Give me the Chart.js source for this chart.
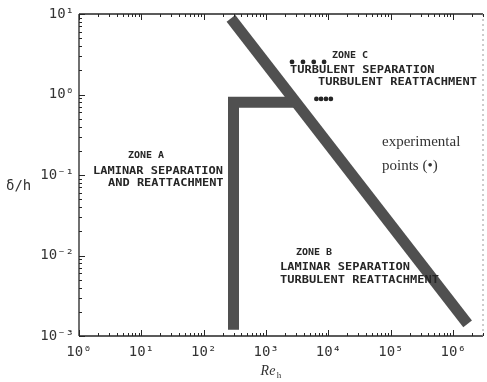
<!DOCTYPE html>
<html>
<head>
<meta charset="utf-8">
<script src="https://cdn.jsdelivr.net/npm/chart.js@4.4.1/dist/chart.umd.min.js"></script>
<style>
  html, body { margin: 0; padding: 0; background: #ffffff; }
  #wrap { width: 487px; height: 382px; }
</style>
</head>
<body>
<div id="wrap"><canvas id="c" width="487" height="382"></canvas></div>
<script>
// Axis ranges and tick labels
const reLimits = [1, 3e6];
const deltaLimits = [1e-3, 10];
const xTickValues = [1, 10, 100, 1000, 1e4, 1e5, 1e6];
const xTickLabels = ['10⁰', '10¹', '10²', '10³', '10⁴', '10⁵', '10⁶'];
const yTickValues = [1e-3, 1e-2, 1e-1, 1, 10];
const yTickLabels = ['10⁻³', '10⁻²', '10⁻¹', '10⁰', '10¹'];

// Boundary between turbulent and laminar separation (δ/h ∝ 1/Re)
const transitionRe = [273, 1.7e6];
const transitionDelta = [8.8, 0.00141];

// Laminar separation limit
const laminarRe = [300, 300, 3000];
const laminarDelta = [0.0012, 0.8, 0.8];

// Experimental points
const pointsRe = [2600, 3900, 5800, 8500, 6400, 7600, 9100, 10900];
const pointsDelta = [2.54, 2.54, 2.54, 2.54, 0.88, 0.88, 0.88, 0.88];

const toXY = (xs, ys) => xs.map((x, i) => ({ x: x, y: ys[i] }));

const BAND = '#505050';
const INK = '#262626';

// Inward ticks, frame and annotation text
const decor = {
  id: 'decor',
  afterDatasetsDraw(chart) {
    const { ctx, chartArea: a, scales: { x, y } } = chart;
    ctx.save();
    // frame
    ctx.strokeStyle = INK;
    ctx.lineWidth = 1.3;
    ctx.beginPath();
    ctx.moveTo(a.left, a.top); ctx.lineTo(a.right, a.top);
    ctx.moveTo(a.left, a.top); ctx.lineTo(a.left, a.bottom);
    ctx.moveTo(a.left, a.bottom); ctx.lineTo(a.right, a.bottom);
    ctx.stroke();
    ctx.strokeStyle = '#9a9a9a';
    ctx.lineWidth = 1;
    ctx.setLineDash([2, 3]);
    ctx.beginPath();
    ctx.moveTo(a.right, a.top); ctx.lineTo(a.right, a.bottom);
    ctx.stroke();
    ctx.setLineDash([]);

    // ticks
    ctx.strokeStyle = INK;
    ctx.lineWidth = 1;
    ctx.beginPath();
    for (let e = 0; e <= 6; e++) {
      for (let m = 1; m <= 9; m++) {
        const v = m * Math.pow(10, e);
        if (v > reLimits[1]) break;
        const px = Math.round(x.getPixelForValue(v)) + 0.5;
        const len = m === 1 ? 6 : 3;
        ctx.moveTo(px, a.bottom); ctx.lineTo(px, a.bottom - len);
        ctx.moveTo(px, a.top); ctx.lineTo(px, a.top + len);
      }
    }
    for (let e = -3; e <= 1; e++) {
      for (let m = 1; m <= 9; m++) {
        const v = m * Math.pow(10, e);
        if (v > deltaLimits[1]) break;
        const py = Math.round(y.getPixelForValue(v)) + 0.5;
        const len = m === 1 ? 6 : 3;
        ctx.moveTo(a.left, py); ctx.lineTo(a.left + len, py);
      }
    }
    ctx.stroke();

    // zone labels
    const zone = (txt, px, py) => {
      ctx.save();
      ctx.translate(px, py);
      ctx.scale(1, 0.8);
      ctx.fillText(txt, 0, 0);
      ctx.restore();
    };
    ctx.fillStyle = INK;
    ctx.textBaseline = 'middle';
    ctx.textAlign = 'left';
    ctx.font = 'bold 10px "DejaVu Sans Mono"';
    zone('ZONE A', 128, 156);
    zone('ZONE C', 332, 56);
    zone('ZONE B', 296, 253);
    ctx.font = 'bold 12px "DejaVu Sans Mono"';
    zone('LAMINAR SEPARATION', 93, 171);
    zone('AND REATTACHMENT', 108, 183);
    zone('TURBULENT SEPARATION', 290, 70);
    zone('TURBULENT REATTACHMENT', 318, 82);
    zone('LAMINAR SEPARATION', 280, 267);
    zone('TURBULENT REATTACHMENT', 280, 280);

    ctx.font = '15px "Liberation Serif"';
    ctx.fillStyle = '#333333';
    ctx.fillText('experimental', 382, 142);
    ctx.fillText('points (•)', 382, 166);

    // axis titles
    ctx.font = '14px "DejaVu Sans Mono"';
    ctx.fillStyle = '#333333';
    ctx.fillText('δ/h', 6, 186);
    ctx.font = 'italic 14px "Liberation Serif"';
    ctx.textAlign = 'center';
    ctx.fillText('Re', 268, 371);
    ctx.font = '9px "Liberation Serif"';
    ctx.fillText('h', 279, 376);
    ctx.restore();
  }
};

new Chart(document.getElementById('c'), {
  type: 'line',
  data: {
    datasets: [
      {
        data: toXY(transitionRe, transitionDelta),
        borderColor: BAND,
        borderWidth: 11,
        borderCapStyle: 'butt',
        pointRadius: 0,
        fill: false
      },
      {
        data: toXY(laminarRe, laminarDelta),
        borderColor: BAND,
        borderWidth: 11,
        borderCapStyle: 'butt',
        borderJoinStyle: 'miter',
        pointRadius: 0,
        fill: false
      },
      {
        data: toXY(laminarRe.slice(0, 2), [0.0016, 0.6]),
        borderColor: 'rgba(235,235,235,0.8)',
        borderWidth: 1.5,
        borderDash: [2, 7],
        pointRadius: 0,
        fill: false
      },
      {
        data: toXY(pointsRe, pointsDelta),
        showLine: false,
        pointRadius: 2.4,
        pointBackgroundColor: INK,
        pointBorderWidth: 0
      }
    ]
  },
  options: {
    responsive: false,
    animation: false,
    layout: { padding: { top: 14, right: 4, left: 0, bottom: 0 } },
    plugins: { legend: { display: false }, tooltip: { enabled: false } },
    scales: {
      x: {
        type: 'logarithmic',
        min: reLimits[0],
        max: reLimits[1],
        afterBuildTicks: s => { s.ticks = xTickValues.map(v => ({ value: v })); },
        afterFit: s => { s.height = 46; },
        border: { display: false },
        grid: { display: false, drawTicks: false },
        ticks: {
          autoSkip: false,
          maxRotation: 0,
          padding: 8,
          color: '#333333',
          font: { family: 'DejaVu Sans Mono', size: 14 },
          callback: (v) => { const i = xTickValues.indexOf(v); return i >= 0 ? xTickLabels[i] : ''; }
        }
      },
      y: {
        type: 'logarithmic',
        min: deltaLimits[0],
        max: deltaLimits[1],
        afterBuildTicks: s => { s.ticks = yTickValues.map(v => ({ value: v })); },
        afterFit: s => { s.width = 79; },
        border: { display: false },
        grid: { display: false, drawTicks: false },
        ticks: {
          autoSkip: false,
          padding: 5,
          color: '#333333',
          font: { family: 'DejaVu Sans Mono', size: 14 },
          callback: (v) => { const i = yTickValues.indexOf(v); return i >= 0 ? yTickLabels[i] : ''; }
        }
      }
    }
  },
  plugins: [decor]
});
</script>
</body>
</html>
